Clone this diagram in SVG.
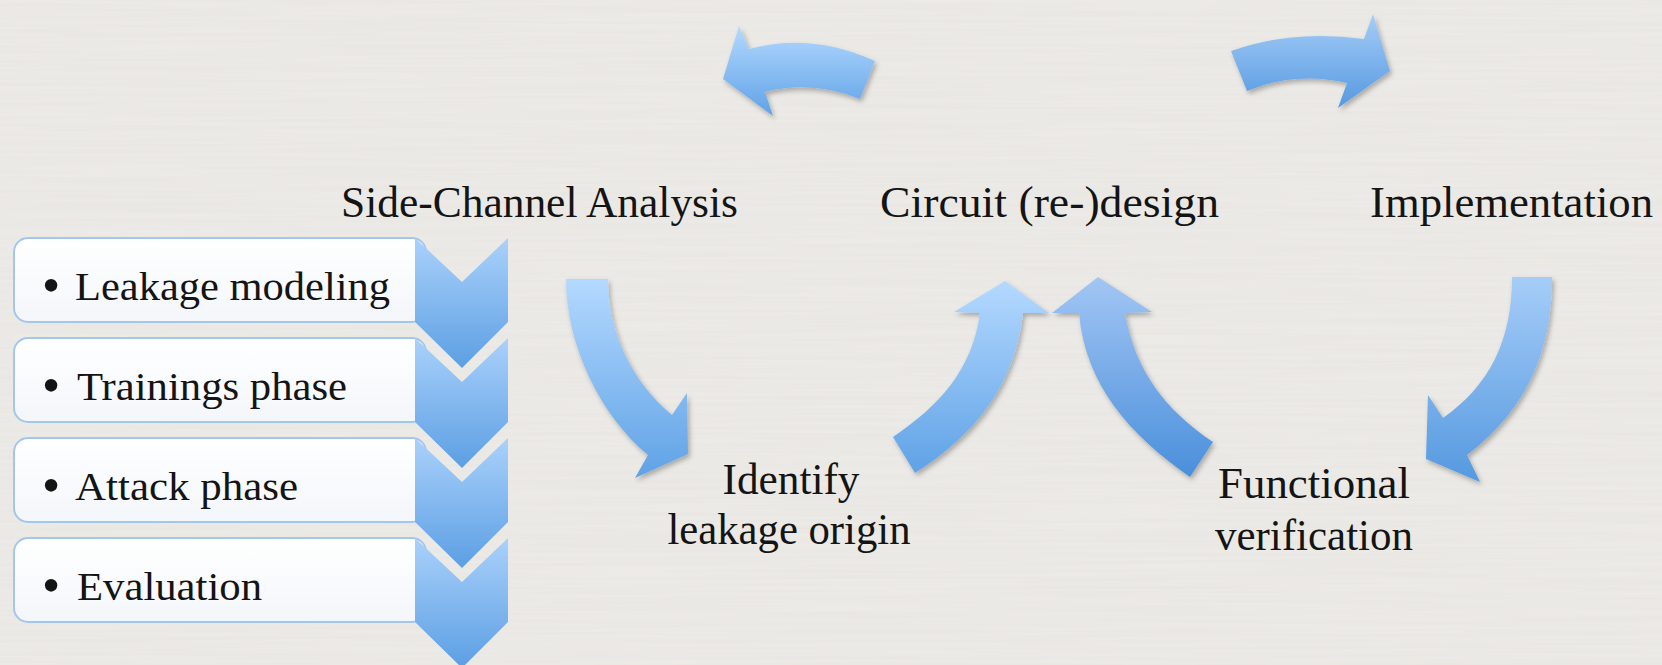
<svg xmlns="http://www.w3.org/2000/svg" width="1662" height="665" viewBox="0 0 1662 665">
  <defs>
    <style>
      .lbl { font-family: 'Liberation Serif', 'DejaVu Serif', serif; font-size: 44px; fill: #141414; }
      .item { font-family: 'Liberation Serif', 'DejaVu Serif', serif; font-size: 40px; fill: #141414; }
      .dot { font-family: 'Liberation Serif', 'DejaVu Serif', serif; font-size: 52px; fill: #141414; }
      .box { fill: url(#boxFill); stroke: #a3c6ec; stroke-width: 2; }
      .chev { fill: url(#chevFill); }
      .arrow { filter: url(#shadow); }
    </style>
    <linearGradient id="boxFill" x1="0" y1="0" x2="0" y2="1">
      <stop offset="0" stop-color="#ffffff"/>
      <stop offset="1" stop-color="#f3f6fa"/>
    </linearGradient>
    <linearGradient id="chevFill" x1="0" y1="0" x2="0" y2="1">
      <stop offset="0" stop-color="#aad1fb"/>
      <stop offset="1" stop-color="#5c9fe3"/>
    </linearGradient>
    <linearGradient id="arrowLight" x1="0" y1="0" x2="0" y2="1">
      <stop offset="0" stop-color="#b4d9ff"/>
      <stop offset="1" stop-color="#5fa2e6"/>
    </linearGradient>
    <linearGradient id="arrowMid" x1="0" y1="0" x2="0" y2="1">
      <stop offset="0" stop-color="#a6cdf8"/>
      <stop offset="1" stop-color="#5599e0"/>
    </linearGradient>
    <linearGradient id="arrowDark" x1="0" y1="0" x2="0" y2="1">
      <stop offset="0" stop-color="#a2c6f4"/>
      <stop offset="1" stop-color="#4a8fdb"/>
    </linearGradient>
    <filter id="shadow" x="-20%" y="-20%" width="140%" height="140%">
      <feDropShadow dx="2" dy="3" stdDeviation="2.5" flood-color="#000000" flood-opacity="0.28"/>
    </filter>
    <filter id="paper" x="0" y="0" width="100%" height="100%">
      <feTurbulence type="fractalNoise" baseFrequency="0.004 0.3" numOctaves="2" seed="7" result="n"/>
      <feColorMatrix in="n" type="matrix" values="0 0 0 0 0.5  0 0 0 0 0.48  0 0 0 0 0.45  0 0 0 0.12 0"/>
    </filter>
  </defs>

  <!-- paper background -->
  <rect width="1662" height="665" fill="#eeece8"/>
  <rect width="1662" height="665" filter="url(#paper)"/>

  <!-- stage headings -->
  <g id="side-channel-analysis">
    <text class="lbl" x="341" y="217" textLength="397" lengthAdjust="spacingAndGlyphs">Side-Channel Analysis</text>
  </g>
  <g id="circuit-redesign">
    <text class="lbl" x="880" y="217" textLength="339" lengthAdjust="spacingAndGlyphs">Circuit (re-)design</text>
  </g>
  <g id="implementation">
    <text class="lbl" x="1370" y="217" textLength="283" lengthAdjust="spacingAndGlyphs">Implementation</text>
  </g>
  <g id="identify-leakage-origin">
    <text class="lbl" x="791" y="494" text-anchor="middle" textLength="137" lengthAdjust="spacingAndGlyphs">Identify</text>
    <text class="lbl" x="789" y="544" text-anchor="middle" textLength="243" lengthAdjust="spacingAndGlyphs">leakage origin</text>
  </g>
  <g id="functional-verification">
    <text class="lbl" x="1314" y="498" text-anchor="middle" textLength="192" lengthAdjust="spacingAndGlyphs">Functional</text>
    <text class="lbl" x="1314" y="550" text-anchor="middle" textLength="198" lengthAdjust="spacingAndGlyphs">verification</text>
  </g>

  <!-- analysis steps: boxes with chevrons -->
  <g id="step-leakage-modeling">
    <rect class="box" x="14" y="238" width="412" height="84" rx="14"/>
    <path class="chev" d="M415,238 L462,282 L508,238 L508,322 L462,368 L415,322 Z"/>
    <text class="dot" x="42" y="303">•</text>
    <text class="item" x="75" y="300" textLength="315" lengthAdjust="spacingAndGlyphs">Leakage modeling</text>
  </g>
  <g id="step-trainings-phase">
    <rect class="box" x="14" y="338" width="412" height="84" rx="14"/>
    <path class="chev" d="M415,338 L462,382 L508,338 L508,422 L462,468 L415,422 Z"/>
    <text class="dot" x="42" y="403">•</text>
    <text class="item" x="77" y="400" textLength="270" lengthAdjust="spacingAndGlyphs">Trainings phase</text>
  </g>
  <g id="step-attack-phase">
    <rect class="box" x="14" y="438" width="412" height="84" rx="14"/>
    <path class="chev" d="M415,438 L462,482 L508,438 L508,522 L462,568 L415,522 Z"/>
    <text class="dot" x="42" y="503">•</text>
    <text class="item" x="75" y="500" textLength="223" lengthAdjust="spacingAndGlyphs">Attack phase</text>
  </g>
  <g id="step-evaluation">
    <rect class="box" x="14" y="538" width="412" height="84" rx="14"/>
    <path class="chev" d="M415,538 L462,582 L508,538 L508,622 L462,668 L415,622 Z"/>
    <text class="dot" x="42" y="603">•</text>
    <text class="item" x="77" y="600" textLength="185" lengthAdjust="spacingAndGlyphs">Evaluation</text>
  </g>

  <!-- curved block arrows -->
  <g id="connectors">
    <!-- top left, pointing left -->
    <path class="arrow" fill="url(#arrowLight)" d="M723,79 L739,26 L749,49 Q811,32 875,61 L860,99 Q812,80 765,92 L773,116 Z"/>
    <!-- top right, pointing right -->
    <path class="arrow" fill="url(#arrowMid)" d="M1231,51 Q1292,29 1364,39 L1373,14 L1390,71 L1338,108 L1347,83 Q1295,71 1247,91 Z"/>
    <!-- down to Identify leakage origin -->
    <path class="arrow" fill="url(#arrowLight)" d="M566,279 L608,279 C608,330 630,380 672,415 L687,393 L688,454 L635,478 L648,455 C600,415 566,345 566,279 Z"/>
    <!-- up from Identify to Circuit (re-)design -->
    <path class="arrow" fill="url(#arrowLight)" d="M893,437 C940,405 972,370 980,313 L954,312 L1005,281 L1049,313 L1023,313 C1015,385 975,435 915,473 Z"/>
    <!-- up from Functional verification to Circuit (re-)design -->
    <path class="arrow" fill="url(#arrowDark)" d="M1190,477 C1130,435 1085,385 1079,313 L1052,313 L1098,277 L1152,312 L1125,313 C1135,370 1165,410 1213,442 Z"/>
    <!-- down from Implementation to Functional verification -->
    <path class="arrow" fill="url(#arrowMid)" d="M1512,277 L1552,277 C1552,355 1525,410 1467,455 L1480,482 L1426,459 L1428,395 L1443,418 C1490,385 1512,340 1512,277 Z"/>
  </g>
</svg>
